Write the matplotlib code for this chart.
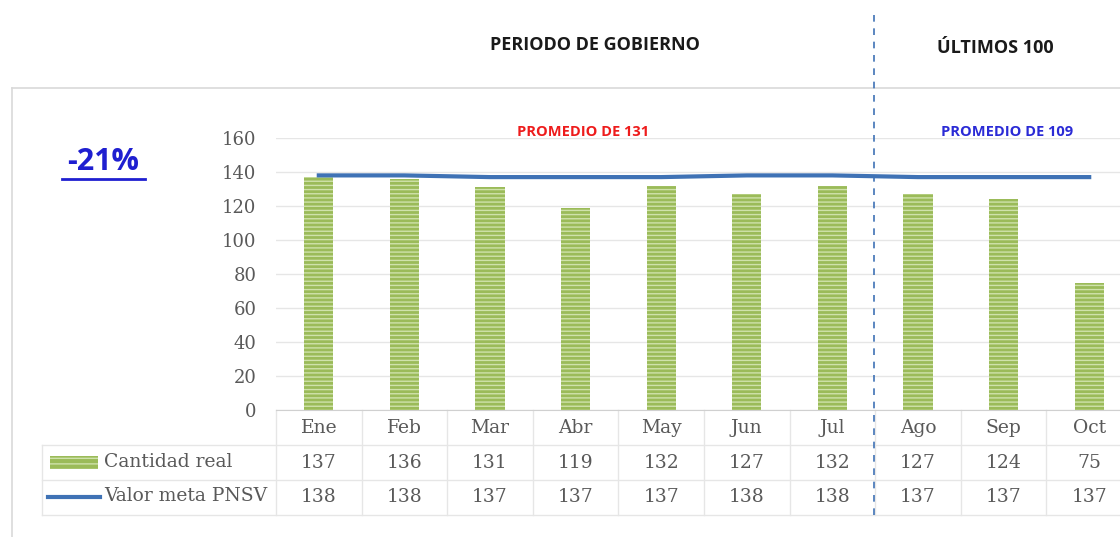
import matplotlib.pyplot as plt
from matplotlib.lines import Line2D
from matplotlib.patches import Rectangle

months = ['Ene', 'Feb', 'Mar', 'Abr', 'May', 'Jun', 'Jul', 'Ago', 'Sep', 'Oct']
cantidad_real = [137, 136, 131, 119, 132, 127, 132, 127, 124, 75]
valor_meta = [138, 138, 137, 137, 137, 138, 138, 137, 137, 137]
yticks = [0, 20, 40, 60, 80, 100, 120, 140, 160]

green = '#9bbb59'
stripe = '#cfe2ab'
blue = '#3f72b5'
gray_txt = '#595959'
grid_c = '#e6e6e6'

plt.rcParams['hatch.linewidth'] = 1.0
plt.rcParams['hatch.color'] = stripe

W, H = 1120, 537
fig = plt.figure(figsize=(W / 100, H / 100), dpi=100)

# axes: x from 276 px to 1132 px, y 0 at 410 px, 160 at 138 px
ax = fig.add_axes([276 / W, 1 - 410 / H, 856 / W, 272 / H])
x = list(range(len(months)))
ax.bar(x, cantidad_real, width=0.34, color=green, edgecolor=stripe,
       linewidth=0, hatch='----', zorder=3)
ax.plot(x, valor_meta, color=blue, lw=3, zorder=4)
ax.set_xlim(-0.5, len(months) - 0.5)
ax.set_ylim(0, 160)
ax.set_yticks(yticks)
ax.set_yticklabels([str(v) for v in yticks], family='DejaVu Serif',
                   fontsize=13, color=gray_txt)
ax.tick_params(axis='y', length=0, pad=14)
ax.set_xticks([])
ax.grid(axis='y', color=grid_c, lw=1, zorder=0)
for s in ['top', 'right', 'left']:
    ax.spines[s].set_visible(False)
ax.spines['bottom'].set_color('#d0d0d0')

# data table below the axes (pixel rows)
def fy(py):
    return (410 - py) / 272

tr = ax.get_xaxis_transform()
serif = dict(family='DejaVu Serif', fontsize=13.5, color=gray_txt,
             ha='center', va='center')
for i, m in enumerate(months):
    ax.text(i, fy(428), m, transform=tr, clip_on=False, **serif)
    ax.text(i, fy(463), str(cantidad_real[i]), transform=tr, clip_on=False, **serif)
    ax.text(i, fy(497), str(valor_meta[i]), transform=tr, clip_on=False, **serif)
for i in range(len(months) + 1):
    ax.add_line(Line2D([i - 0.5, i - 0.5], [fy(410), fy(515)], transform=tr,
                       color=grid_c, lw=1, clip_on=False))

# table horizontal lines and left column in figure pixels
def fl(xs, ys, **kw):
    fig.add_artist(Line2D([v / W for v in xs], [1 - v / H for v in ys], **kw))

for py in [445, 480, 515]:
    fl([42, 1120], [py, py], color=grid_c, lw=1)
fl([42, 42], [445, 515], color=grid_c, lw=1)

fig.add_artist(Rectangle((50 / W, 1 - 469 / H), 48 / W, 13 / H,
                         facecolor=green, edgecolor=stripe, lw=0, hatch='---'))
fl([48, 100], [497, 497], color=blue, lw=3)
fig.text(104 / W, 1 - 462 / H, 'Cantidad real', family='DejaVu Serif',
         fontsize=13.5, color=gray_txt, va='center', ha='left')
fig.text(104 / W, 1 - 496 / H, 'Valor meta PNSV', family='DejaVu Serif',
         fontsize=13.5, color=gray_txt, va='center', ha='left')

# outer frame
fl([12, 1120], [88, 88], color='#d9d9d9', lw=1.2)
fl([12, 12], [88, 537], color='#d9d9d9', lw=1.2)

# dashed separator
fl([874, 874], [15, 520], color=blue, lw=1.2, ls=(0, (4, 4)))

# annotations
fig.text(595 / W, 1 - 45 / H, 'PERIODO DE GOBIERNO', family='Open Sans',
         weight='bold', fontsize=13, color='#1a1a1a', ha='center', va='center')
fig.text(995 / W, 1 - 48 / H, 'ÚLTIMOS 100', family='Open Sans',
         weight='bold', fontsize=13, color='#1a1a1a', ha='center', va='center')
fig.text(583 / W, 1 - 132 / H, 'PROMEDIO DE 131', family='Open Sans',
         weight='bold', fontsize=10.5, color='#ee1c1c', ha='center', va='center')
fig.text(1007 / W, 1 - 132 / H, 'PROMEDIO DE 109', family='Open Sans',
         weight='bold', fontsize=10.5, color='#2b2bd6', ha='center', va='center')
fig.text(103 / W, 1 - 162 / H, '-21%', family='Open Sans', weight='bold',
         fontsize=22, color='#1f1fd0', ha='center', va='center')
fl([62, 145], [179, 179], color='#1f1fd0', lw=2)

fig.savefig('out.png', dpi=100)
